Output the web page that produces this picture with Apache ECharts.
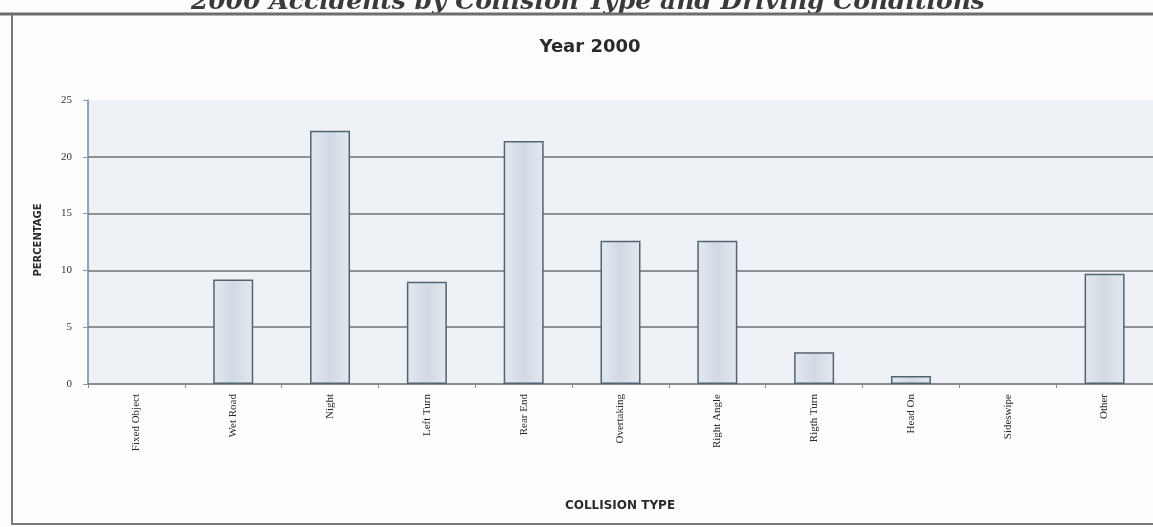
<!DOCTYPE html>
<html>
<head>
<meta charset="utf-8">
<title>Year 2000 – Collision Type</title>
<script src="https://cdn.jsdelivr.net/npm/echarts@6/dist/echarts.min.js"></script>
<style>
  html, body { margin: 0; padding: 0; background: #fdfdfd; }
  #chart { width: 1153px; height: 527px; }
</style>
</head>
<body>
<div id="chart"></div>
<script>
// Collision types along the x axis
const categories = ['Fixed Object', 'Wet Road', 'Night', 'Left Turn', 'Rear End',
  'Overtaking', 'Right Angle', 'Rigth Turn', 'Head On', 'Sideswipe', 'Other'];
// Share of accidents per collision type, percent
const percentages = [0, 9.2, 22.3, 9.0, 21.4, 12.6, 12.6, 2.8, 0.7, 0, 9.7];
// Value axis range and step
const yMin = 0;
const yMax = 25;
const yStep = 5;

const pageTitle = '2000 Accidents by Collision Type and Driving Conditions';
const chartTitle = 'Year 2000';
const yName = 'PERCENTAGE';
const xName = 'COLLISION TYPE';

const chart = echarts.init(document.getElementById('chart'), null, { renderer: 'canvas' });

const gridColor = '#8d9297';
// one colour per split line (0..25); the top line stays hidden
const splitColors = [];
for (let v = yMin; v <= yMax; v += yStep) splitColors.push(v === yMax ? 'rgba(0,0,0,0)' : gridColor);

// empty categories get no outline
const barData = percentages.map(v => (v === 0 ? { value: v, itemStyle: { borderWidth: 0 } } : v));

chart.setOption({
  backgroundColor: '#fdfdfd',
  animation: false,
  graphic: [
    // heading above the frame (runs off the top edge)
    { type: 'text', x: 588, y: 15,
      style: { text: pageTitle, align: 'center', verticalAlign: 'bottom',
        font: 'italic bold 25px "DejaVu Serif"', fill: '#3a3a3a' } },
    // frame around the chart
    { type: 'rect', shape: { x: 12, y: 14, width: 1170, height: 510 },
      style: { fill: 'none', stroke: '#7a7a7a', lineWidth: 2 } },
    { type: 'line', shape: { x1: 0, y1: 14, x2: 1153, y2: 14 },
      style: { stroke: '#6e6e6e', lineWidth: 3 } },
    { type: 'text', x: 590, y: 47,
      style: { text: chartTitle, align: 'center', verticalAlign: 'middle',
        font: 'bold 18px "DejaVu Sans"', fill: '#2a2a2a' } },
    { type: 'text', x: 38, y: 240, rotation: Math.PI / 2,
      style: { text: yName, align: 'center', verticalAlign: 'middle',
        font: 'bold 10px "DejaVu Sans"', fill: '#2a2a2a' } },
    { type: 'text', x: 620, y: 506,
      style: { text: xName, align: 'center', verticalAlign: 'middle',
        font: 'bold 12px "DejaVu Sans"', fill: '#2a2a2a' } }
  ],
  grid: {
    left: 88, top: 100, width: 1071, height: 284,
    show: true, backgroundColor: '#eef2f6', borderWidth: 0
  },
  xAxis: {
    type: 'category',
    data: categories,
    axisLine: { show: true, lineStyle: { color: '#868c92', width: 2 } },
    axisTick: { show: true, length: 4, lineStyle: { color: '#868c92' } },
    axisLabel: {
      rotate: 90, margin: 10, interval: 0,
      fontFamily: 'Liberation Serif', fontSize: 11, color: '#2a2a2a'
    },
    splitLine: { show: false }
  },
  yAxis: {
    type: 'value',
    min: yMin, max: yMax, interval: yStep,
    axisLine: { show: true, lineStyle: { color: '#6f8aa0', width: 1.5 } },
    axisTick: { show: true, length: 5, lineStyle: { color: '#8a9aa8' } },
    axisLabel: { margin: 16, fontFamily: 'Liberation Serif', fontSize: 11, color: '#333' },
    splitLine: { show: true, lineStyle: { color: splitColors, width: 2 } }
  },
  series: [{
    type: 'bar',
    data: barData,
    barWidth: 40,
    itemStyle: {
      color: {
        type: 'linear', x: 0, y: 0, x2: 1, y2: 0,
        colorStops: [
          { offset: 0, color: '#e2e8ef' },
          { offset: 0.5, color: '#d1dae4' },
          { offset: 1, color: '#e2e8ef' }
        ]
      },
      borderColor: '#55636f',
      borderWidth: 1.5
    }
  }]
});
</script>
</body>
</html>
